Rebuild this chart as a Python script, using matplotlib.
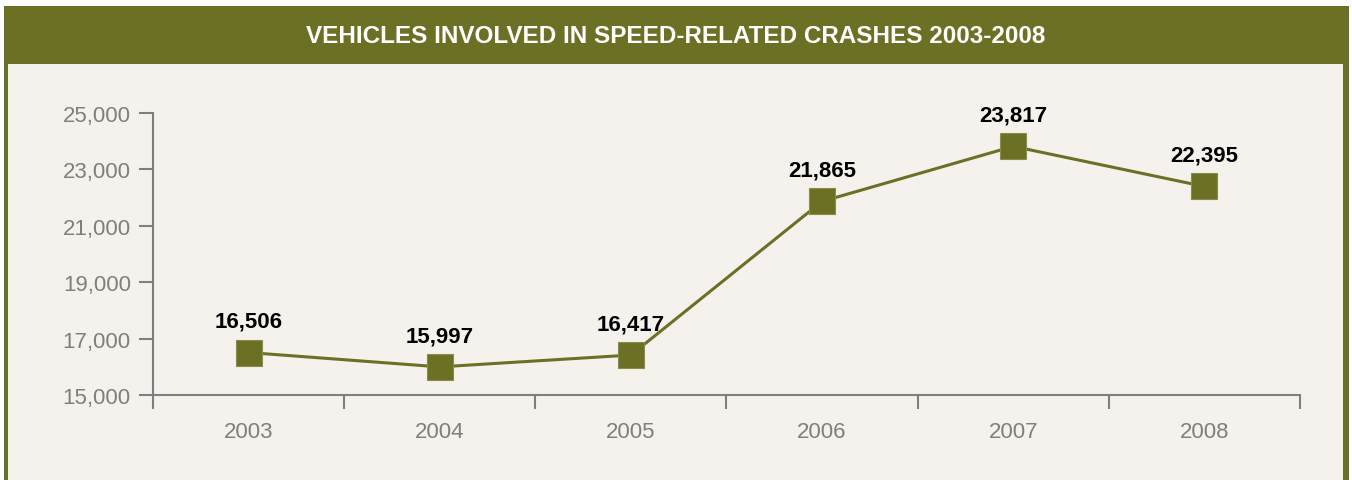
import matplotlib.pyplot as plt
from matplotlib.patches import Rectangle
from matplotlib.ticker import FuncFormatter, FixedLocator

years = ['2003', '2004', '2005', '2006', '2007', '2008']
vehicles = [16506, 15997, 16417, 21865, 23817, 22395]
yticks = [15000, 17000, 19000, 21000, 23000, 25000]
title = 'VEHICLES INVOLVED IN SPEED-RELATED CRASHES 2003-2008'

olive = '#6b7025'
panel = '#f5f2ee'
grey = '#7f7f7f'

plt.rcParams['font.family'] = ['Liberation Sans Narrow', 'Liberation Sans', 'DejaVu Sans']

W, H = 1352, 481
fig = plt.figure(figsize=(W / 100, H / 100), dpi=100)
fig.patch.set_facecolor('white')

# frame: olive border + header band, light panel inside
fig.add_artist(Rectangle((4 / W, 0), (1349 - 4) / W, 1 - 7 / H,
                         transform=fig.transFigure, facecolor=olive, edgecolor='none', zorder=0))
fig.add_artist(Rectangle((8 / W, 0), (1343 - 8) / W, 1 - 65 / H,
                         transform=fig.transFigure, facecolor=panel, edgecolor='none', zorder=0))
fig.text(0.5, 1 - 37 / H, title, color='white', fontsize=17.5, fontweight='bold',
         ha='center', va='center')

ax = fig.add_axes([153 / W, 1 - 396 / H, (1300 - 153) / W, (396 - 114) / H])
ax.patch.set_alpha(0)

x = list(range(len(years)))
ax.plot(x, vehicles, color=olive, lw=2.2, marker='s', ms=19,
        mfc=olive, mec='#8a8d4a', mew=0.8, zorder=3, clip_on=False)

for xi, v in zip(x, vehicles):
    ax.annotate(f'{v:,}', (xi, v), xytext=(0, 15), textcoords='offset points',
                ha='center', va='bottom', fontsize=16, fontweight='bold', color='black')

ax.set_xlim(-0.5, len(years) - 0.5)
ax.set_ylim(15000, 25000)
ax.set_yticks(yticks)
ax.yaxis.set_major_formatter(FuncFormatter(lambda v, p: f'{int(v):,}'))
ax.set_xticks(x)
ax.set_xticklabels(years)
ax.xaxis.set_minor_locator(FixedLocator([i - 0.5 for i in range(len(years) + 1)]))

ax.tick_params(axis='x', which='major', length=0, pad=19, labelsize=16, labelcolor=grey)
ax.tick_params(axis='x', which='minor', direction='out', length=10, width=1.5, color=grey)
ax.tick_params(axis='y', direction='out', length=10, width=1.5, color=grey,
               labelsize=16, labelcolor=grey, pad=6)

for s in ['top', 'right']:
    ax.spines[s].set_visible(False)
for s in ['left', 'bottom']:
    ax.spines[s].set_color(grey)
    ax.spines[s].set_linewidth(1.5)

fig.savefig('out.png', dpi=100)
